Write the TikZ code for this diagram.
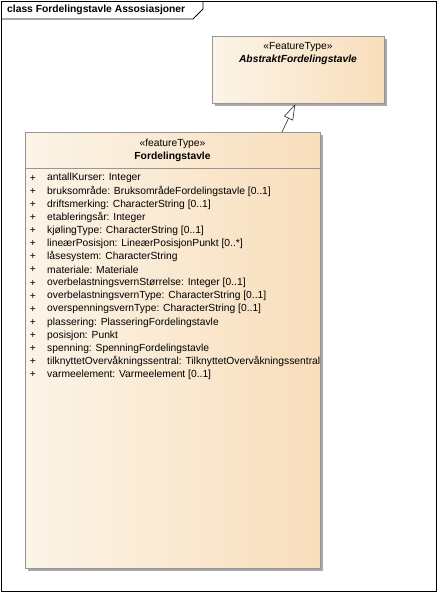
\documentclass[tikz,border=0pt]{standalone}
\usepackage{fontspec}
\setmainfont{Liberation Sans}
\usetikzlibrary{arrows.meta,shadows}
\definecolor{boxL}{RGB}{252,244,232}
\definecolor{boxR}{RGB}{248,222,187}
\definecolor{boxBorder}{RGB}{150,150,150}
\definecolor{shadowGray}{RGB}{168,168,168}
\tikzset{
  classbox/.style={draw=boxBorder, line width=0.9pt, left color=boxL, right color=boxR,
    drop shadow={shadow xshift=3pt, shadow yshift=-3pt, fill=shadowGray, opacity=1},
    inner sep=0pt, anchor=north west},
  attr/.style={anchor=west, inner sep=0pt, font=\fontsize{10.3}{12}\selectfont},
  plus/.style={anchor=center, inner sep=0pt, font=\fontsize{10.3}{12}\selectfont},
  stereo/.style={anchor=center, inner sep=0pt, font=\fontsize{10.3}{12}\selectfont},
  cname/.style={anchor=center, inner sep=0pt, font=\fontsize{10.3}{12}\selectfont\bfseries},
  gen/.style={draw=black!75, line width=0.7pt, -{Triangle[open, length=16pt, width=10pt, fill=white]}},
}
\begin{document}
\begin{tikzpicture}[x=1pt, y=-1pt]
\useasboundingbox (0,0) rectangle (438,593);
% frame
\node[draw=black, line width=0.8pt, minimum width=435pt, minimum height=590pt, inner sep=0pt, anchor=north west] (frame) at (1,1) {};
\draw[line width=0.8pt] (1,19) -- (193,19) -- (203,9) -- (203,1);
\node[anchor=west, inner sep=0pt, font=\fontsize{10.3}{12}\selectfont\bfseries] (title) at (7,10) {class Fordelingstavle Assosiasjoner};
% top abstract class
\node[classbox, minimum width=172pt, minimum height=67pt] (abs) at (212,36) {};
\node[stereo] (absst) at (298,47) {«FeatureType»};
\node[cname, font=\fontsize{10.3}{12}\selectfont\bfseries\itshape] (absname) at (298,60) {AbstraktFordelingstavle};
% main class
\node[classbox, minimum width=295pt, minimum height=436pt] (cls) at (25,132) {};
\draw[draw=boxBorder, line width=0.9pt] (25,168) -- (320,168);
\node[stereo] (clsst) at (172.5,144) {«featureType»};
\node[cname] (clsname) at (172.5,157) {Fordelingstavle};
\foreach \t [count=\i from 0] in {
  {antallKurser: Integer},
  {bruksområde: BruksområdeFordelingstavle [0..1]},
  {driftsmerking: CharacterString [0..1]},
  {etableringsår: Integer},
  {kjølingType: CharacterString [0..1]},
  {lineærPosisjon: LineærPosisjonPunkt [0..*]},
  {låsesystem: CharacterString},
  {materiale: Materiale},
  {overbelastningsvernStørrelse: Integer [0..1]},
  {overbelastningsvernType: CharacterString [0..1]},
  {overspenningsvernType: CharacterString [0..1]},
  {plassering: PlasseringFordelingstavle},
  {posisjon: Punkt},
  {spenning: SpenningFordelingstavle},
  {tilknyttetOvervåkningssentral: TilknyttetOvervåkningssentral},
  {varmeelement: Varmeelement [0..1]}} {
  \node[plus] (p\i) at (33,178.3+13.1*\i) {+};
  \node[attr] (a\i) at (47,178.3+13.1*\i) {\t};
}
% generalization
\coordinate (gs) at (282,132);
\coordinate (ge) at (295.3,104);
\draw[gen] (gs) -- (ge);
\end{tikzpicture}
\end{document}
